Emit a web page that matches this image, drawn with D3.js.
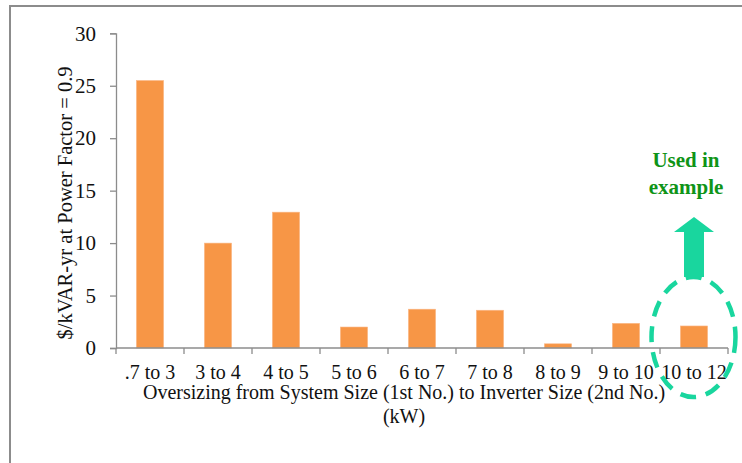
<!DOCTYPE html>
<html>
<head>
<meta charset="utf-8">
<script src="https://cdn.jsdelivr.net/npm/d3@7"></script>
<style>
  html, body { margin: 0; padding: 0; background: #fff; }
  svg { display: block; }
  text { font-family: "Liberation Serif", "Times New Roman", serif; }
</style>
</head>
<body>
<svg id="chart" width="742" height="463"></svg>
<script>
// Oversizing ranges (system size to inverter size, kW)
const categories = [".7 to 3", "3 to 4", "4 to 5", "5 to 6", "6 to 7", "7 to 8", "8 to 9", "9 to 10", "10 to 12"];
// $/kVAR-yr at power factor 0.9
const values = [25.5, 10.0, 12.95, 2.0, 3.7, 3.6, 0.4, 2.35, 2.1];
const yTicks = [0, 5, 10, 15, 20, 25, 30];
const highlighted = "10 to 12";

const svg = d3.select("#chart");
const W = 742, H = 463;

// outer frame
svg.append("rect")
  .attr("x", 10).attr("y", 6)
  .attr("width", W + 20).attr("height", H + 20)
  .attr("fill", "none").attr("stroke", "#8c8c8c").attr("stroke-width", 2);

const x = d3.scaleBand().domain(categories).range([116, 728]).paddingInner(0.6).paddingOuter(0.3);
const y = d3.scaleLinear().domain([0, 30]).range([348, 33.3]);

// bars
svg.append("g").selectAll("rect").data(values).join("rect")
  .attr("x", (d, i) => x(categories[i]))
  .attr("y", d => y(d))
  .attr("width", x.bandwidth())
  .attr("height", d => y(0) - y(d))
  .attr("fill", "#f79646")
  .attr("stroke", "#fbb889").attr("stroke-width", 0.6);

// y axis
const yAxis = svg.append("g").attr("transform", "translate(116,0)")
  .call(d3.axisLeft(y).tickValues(yTicks).tickSize(6).tickPadding(14));
yAxis.selectAll("path, line").attr("stroke", "#8c8c8c").attr("stroke-width", 1.3);
yAxis.selectAll("text").attr("font-size", 21).attr("fill", "#111")
  .style("font-family", '"Liberation Serif", serif');

// x axis: ticks on band boundaries
const xAxisG = svg.append("g").attr("transform", "translate(0,348)");
xAxisG.append("line").attr("x1", 116).attr("x2", 728).attr("y1", 0).attr("y2", 0)
  .attr("stroke", "#8c8c8c").attr("stroke-width", 1.3);
const edges = d3.range(categories.length + 1).map(i => 116 + i * (612 / categories.length));
xAxisG.selectAll("line.tick").data(edges).join("line").attr("class", "tick")
  .attr("x1", d => d).attr("x2", d => d).attr("y1", 0).attr("y2", 6)
  .attr("stroke", "#8c8c8c").attr("stroke-width", 1.3);
xAxisG.selectAll("text").data(categories).join("text")
  .attr("x", d => x(d) + x.bandwidth() / 2)
  .attr("y", 31)
  .attr("text-anchor", "middle")
  .attr("font-size", 20).attr("fill", "#111")
  .text(d => d);

// axis titles
svg.append("text").attr("x", 404).attr("y", 399).attr("text-anchor", "middle")
  .attr("font-size", 20).attr("fill", "#111")
  .text("Oversizing from System Size (1st No.) to Inverter Size (2nd No.)");
svg.append("text").attr("x", 404).attr("y", 423).attr("text-anchor", "middle")
  .attr("font-size", 20).attr("fill", "#111").text("(kW)");
svg.append("text")
  .attr("transform", "translate(72,203) rotate(-90)")
  .attr("text-anchor", "middle")
  .attr("font-size", 20.5).attr("fill", "#111")
  .text("$/kVAR-yr at Power Factor = 0.9");

// callout for the highlighted range
const cx = x(highlighted) + x.bandwidth() / 2;
const teal = "#19d69e";
svg.append("ellipse")
  .attr("cx", cx - 0.5).attr("cy", 337)
  .attr("rx", 42).attr("ry", 60)
  .attr("fill", "none").attr("stroke", teal)
  .attr("stroke-width", 4.5).attr("stroke-dasharray", "16 10");

const arrow = d3.path();
arrow.moveTo(cx - 10, 277);
arrow.lineTo(cx - 10, 232);
arrow.lineTo(cx - 20, 232);
arrow.lineTo(cx, 217);
arrow.lineTo(cx + 20, 232);
arrow.lineTo(cx + 10, 232);
arrow.lineTo(cx + 10, 277);
arrow.closePath();
svg.append("path").attr("d", arrow.toString()).attr("fill", teal);

svg.append("text").attr("x", cx - 8).attr("y", 167).attr("text-anchor", "middle")
  .attr("font-size", 21).attr("font-weight", "bold").attr("fill", "#0f9418").text("Used in");
svg.append("text").attr("x", cx - 8).attr("y", 194).attr("text-anchor", "middle")
  .attr("font-size", 21).attr("font-weight", "bold").attr("fill", "#0f9418").text("example");
</script>
</body>
</html>
